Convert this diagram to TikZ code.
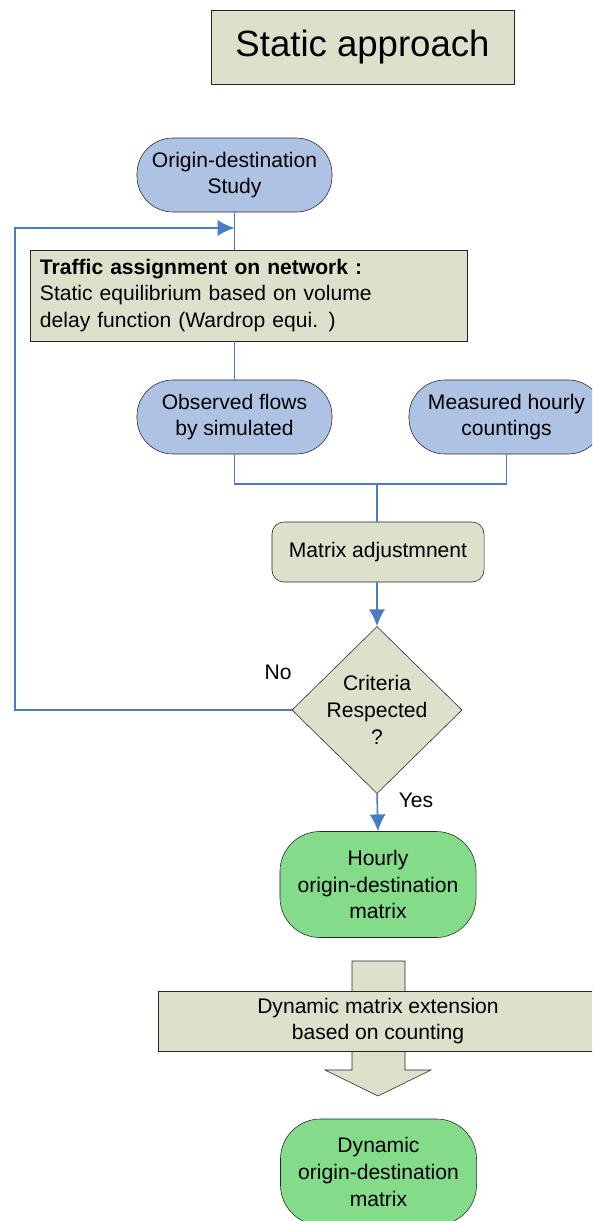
\documentclass[tikz,border=0pt]{standalone}
\usepackage{fontspec}
\setmainfont{Liberation Sans}
\usetikzlibrary{arrows.meta,shapes.geometric,positioning}
\definecolor{boxgray}{HTML}{DDE0CB}
\definecolor{nodeblue}{HTML}{AEC3E4}
\definecolor{nodegreen}{HTML}{84DB8A}
\definecolor{linkblue}{HTML}{4A7BC6}

\begin{document}
\begin{tikzpicture}[x=0.025cm, y=-0.025cm, >={Latex[length=0.42cm,width=0.4cm]},
	font=\fontsize{15}{19}\selectfont,
	box/.style={rectangle, draw=black!85, fill=boxgray, inner sep=0pt, align=center},
	term/.style={rectangle, rounded corners=0.9cm, draw=black!85, fill=nodeblue, inner sep=0pt, align=center, minimum width=4.875cm, minimum height=1.85cm},
	result/.style={rectangle, rounded corners=1cm, draw=black!85, fill=nodegreen, inner sep=0pt, align=center, minimum width=4.9cm, minimum height=2.65cm},
	link/.style={draw=linkblue, line width=1.1pt}]

	\useasboundingbox (0,0) rectangle (592,1221);
	\clip (0,0) rectangle (592,1221);

	\node[box, minimum width=7.575cm, minimum height=1.85cm, font=\fontsize{26}{30}\selectfont](title) at (362.5,47) {Static approach};

	\node[term](study) at (234.5,175) {Origin-destination\\Study};

	\node[box, minimum width=10.925cm, minimum height=2.275cm, text width=10.425cm, align=left](assign) at (248.5,295.5) {\textbf{Traffic assignment on network :}\\Static equilibrium based on volume\\delay function (Wardrop equi. )};

	\node[term](observed) at (234.5,417) {Observed flows\\by simulated};
	\node[term](measured) at (506.5,417) {Measured hourly\\countings};

	\node[box, rounded corners=0.3cm, minimum width=5.3cm, minimum height=1.5cm](adjust) at (378,552) {Matrix adjustmnent};

	\node[box, diamond, aspect=1, inner sep=-1pt, minimum width=4.25cm, minimum height=4.175cm](crit) at (377,710) {Criteria\\Respected\\?};

	\node[result](hourly) at (378,884.5) {Hourly\\origin-destination\\matrix};

	% Blockpfeil
	\draw[draw=black!85, fill=boxgray] (352,961) -- (405,961) -- (405,1070) -- (431,1070) -- (378,1096) -- (325,1070) -- (352,1070) -- cycle;
	\node[box, minimum width=11cm, minimum height=1.5cm](extend) at (378,1021) {Dynamic matrix extension\\based on counting};

	\node[result](dynamic) at (378.5,1172) {Dynamic\\origin-destination\\matrix};

	\node[](no) at (278,672) {No};
	\node[](yes) at (416,800) {Yes};

	\coordinate (join) at (377,484);
	\coordinate (back) at (15,228);
	\coordinate (entry) at (234.5,228);

	% Verbindungen
	\draw[link] (study.south) -- (study.south |- assign.north);
	\draw[link] (study.south |- assign.south) -- (observed.north);
	\draw[link] (observed.south) |- (join);
	\draw[link] (measured.south) |- (join);
	\draw[link] (join) -- (adjust.north -| join);
	\draw[link, ->] (adjust.south -| crit.north) -- (crit.north);
	\draw[link, ->] (crit.south) -- (hourly.north);
	\draw[link, ->] (crit.west) -| (back) -- (entry);

\end{tikzpicture}
\end{document}
